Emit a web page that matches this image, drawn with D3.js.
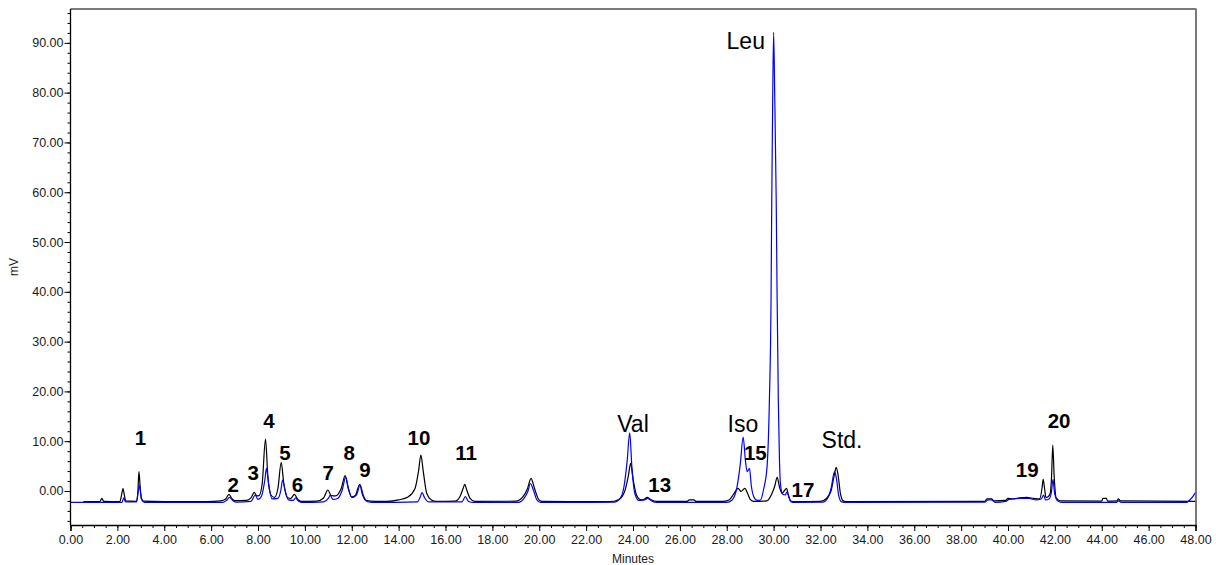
<!DOCTYPE html>
<html>
<head>
<meta charset="utf-8">
<script src="https://cdn.jsdelivr.net/npm/d3@7"></script>
<style>
  html, body { margin: 0; padding: 0; background: #fff; }
  svg { display: block; }
  text { font-family: "Liberation Sans", Arial, sans-serif; }
</style>
</head>
<body>
<svg id="chart" width="1216" height="565"></svg>
<script>
// ---- Data ----
// Black trace: retention time (min), response (mV)
const blackTime = [0.55,1.25,1.34,1.42,2.1,2.18,2.24,2.3,2.36,2.8,2.87,2.92,2.97,3.02,3.12,4.0,5.5,6.1,6.4,6.62,6.76,6.88,7.0,7.5,7.7,7.84,7.95,8.05,8.18,8.32,8.42,8.55,8.7,8.85,8.99,9.1,9.25,9.4,9.55,9.7,9.85,10.5,10.8,10.98,11.12,11.3,11.55,11.72,11.85,12.0,12.15,12.34,12.45,12.6,13.0,13.5,14.0,14.4,14.7,14.85,14.95,15.05,15.2,15.4,15.6,16.4,16.62,16.75,16.82,16.9,17.05,17.25,19.0,19.3,19.5,19.65,19.78,19.95,20.1,23.0,23.4,23.65,23.8,23.9,24.0,24.15,24.35,24.5,24.6,24.75,25.0,26.3,26.4,26.6,26.7,27.8,28.1,28.3,28.48,28.61,28.77,28.9,29.0,29.15,29.7,29.93,30.05,30.15,30.25,30.36,30.45,30.55,30.63,30.72,30.9,32.0,32.25,32.45,32.6,32.67,32.75,32.85,32.95,33.1,39.0,39.1,39.3,39.4,39.9,40.0,40.2,40.5,40.8,41.1,41.35,41.45,41.5,41.56,41.62,41.7,41.8,41.86,41.91,41.97,42.05,42.25,44.0,44.05,44.2,44.25,44.65,44.71,44.8,47.9,48.0];
const blackValue = [-2.15,-2.15,-1.5,-2.1,-2.15,-0.8,0.5,-0.9,-2.0,-2.1,-0.5,3.9,1.0,-1.5,-2.05,-2.15,-2.15,-2.1,-2.0,-1.6,-0.67,-1.5,-1.95,-1.9,-1.4,-0.27,-1.0,-0.9,1.5,10.4,3.0,-0.8,-1.3,0.5,5.75,1.5,-1.3,-1.5,-0.67,-1.7,-2.1,-2.05,-1.4,0.2,-0.9,-1.0,0.5,3.07,0.5,-1.2,-0.9,1.34,-0.6,-1.9,-2.1,-2.1,-1.8,-1.2,0.5,4.0,7.23,4.0,-0.5,-1.8,-2.1,-2.05,-1.1,0.5,1.34,0.3,-1.5,-2.1,-2.05,-1.2,0.5,2.55,0.8,-1.5,-2.1,-2.15,-1.7,0.0,3.0,5.55,2.5,-0.8,-1.8,-1.6,-1.27,-1.7,-2.1,-2.1,-1.8,-1.8,-2.1,-2.1,-1.8,-0.6,0.54,-0.1,0.54,-0.6,-1.7,-2.1,-2.0,-0.5,1.0,2.75,0.8,-0.47,0.0,0.54,-0.8,-2.0,-2.15,-2.1,-1.5,0.0,3.5,4.75,3.2,-0.5,-1.9,-2.15,-2.1,-1.6,-1.6,-2.0,-1.9,-1.5,-1.6,-1.4,-1.3,-1.5,-1.6,0.5,2.35,0.5,-1.3,-1.2,-0.5,3.0,9.24,3.0,-1.3,-2.0,-2.05,-1.5,-1.5,-2.05,-2.0,-1.6,-2.0,-2.1,-2.1];

// Blue trace: retention time (min), response (mV)
const blueTime = [0,2.2,2.27,2.35,2.82,2.88,2.93,2.98,3.05,3.15,6.5,6.65,6.79,6.92,7.1,7.7,7.88,8.0,8.15,8.3,8.36,8.45,8.6,8.85,8.97,9.05,9.15,9.3,9.5,9.6,9.72,9.9,10.8,11.0,11.08,11.2,11.4,11.6,11.74,11.85,12.0,12.2,12.36,12.48,12.65,12.9,14.8,14.92,15.0,15.1,15.3,16.7,16.85,16.98,17.2,19.1,19.35,19.52,19.62,19.75,19.9,20.05,23.2,23.45,23.62,23.75,23.86,23.95,24.08,24.25,24.5,24.62,24.8,25.0,28.0,28.23,28.44,28.58,28.7,28.8,28.87,28.97,29.05,29.15,29.3,29.44,29.58,29.72,29.82,29.89,29.92,29.96,30.0,30.05,30.11,30.15,30.2,30.25,30.29,30.38,30.5,30.56,30.65,30.75,30.9,32.1,32.3,32.45,32.6,32.68,32.78,32.9,33.1,39.0,39.15,39.3,39.45,39.9,40.05,40.5,40.9,41.2,41.42,41.52,41.6,41.75,41.85,41.92,41.98,42.1,42.3,44.6,44.72,44.85,47.6,47.8,48.0];
const blueValue = [-2.3,-2.3,-1.4,-2.2,-2.2,-0.5,1.2,0.0,-1.8,-2.3,-2.3,-1.9,-1.27,-1.9,-2.25,-2.1,-0.8,-1.7,-1.0,2.5,4.55,1.5,-1.6,-1.5,0.0,2.2,0.3,-1.8,-1.9,-1.4,-2.0,-2.3,-2.2,-1.5,-0.9,-1.7,-1.5,0.3,2.8,0.7,-1.3,-0.8,1.2,-0.7,-2.1,-2.3,-2.2,-1.2,-0.33,-1.3,-2.2,-2.2,-1.14,-2.1,-2.3,-2.3,-1.5,0.0,1.5,0.2,-1.8,-2.3,-2.25,-1.5,1.0,6.0,11.7,5.0,-0.5,-1.9,-1.8,-1.5,-2.0,-2.3,-2.3,-1.8,0.87,5.5,10.8,6.0,3.9,4.55,1.0,-1.1,-1.9,-1.8,0.5,4.9,18.3,38.4,58.4,78.5,92.1,78.5,58.4,38.4,18.3,6.0,1.5,-0.6,-0.8,-0.2,-1.2,-2.2,-2.3,-2.25,-1.5,0.5,3.9,2.5,-1.0,-2.2,-2.3,-2.25,-1.8,-1.8,-2.3,-2.1,-1.7,-1.5,-1.5,-1.8,-1.6,-0.8,-1.8,-1.6,-0.3,2.35,-0.2,-1.9,-2.3,-2.3,-2.0,-2.3,-2.3,-1.6,-0.33];

// Peak labels: text, anchor time (min), anchor response (mV), bold flag
const peakLabels = ["1","2","3","4","5","6","7","8","9","10","11","Val","13","Iso","15","Leu","17","Std.","19","20"];
const peakLabelTime = [2.98,6.94,7.79,8.47,9.15,9.68,11.0,11.89,12.56,14.87,16.88,24.0,25.14,28.69,29.22,28.81,31.25,32.92,40.82,42.18];
const peakLabelValue = [9.24,-0.13,2.2,12.6,6.22,-0.13,2.2,6.22,2.87,9.24,6.22,11.8,-0.13,11.8,6.22,88.7,-1.14,8.57,2.87,12.6];
const peakLabelBold = [1,1,1,1,1,1,1,1,1,1,1,0,1,0,1,0,1,0,1,1];

// Axis ticks
const xTickValues = [0,2,4,6,8,10,12,14,16,18,20,22,24,26,28,30,32,34,36,38,40,42,44,46,48];
const yTickValues = [0,10,20,30,40,50,60,70,80,90];
const xAxisTitle = "Minutes";
const yAxisTitle = "mV";

// ---- Layout ----
const svg = d3.select("#chart");
const padL = 70.5, padR = 1195.5, padT = 9, padB = 525;

const x = d3.scaleLinear().domain([0, 48]).range([padL, padR]);
const y = d3.scaleLinear().domain([-6.83, 96.8]).range([padB, padT]);

// frame (top & right, grey)
svg.append("line").attr("x1", padL).attr("x2", padR + 1).attr("y1", padT).attr("y2", padT)
  .attr("stroke", "#7a7a7a").attr("stroke-width", 2);
svg.append("line").attr("x1", padR + 0.5).attr("x2", padR + 0.5).attr("y1", padT).attr("y2", padB)
  .attr("stroke", "#7a7a7a").attr("stroke-width", 2);

// clip
svg.append("clipPath").attr("id", "plotclip").append("rect")
  .attr("x", padL).attr("y", padT).attr("width", padR - padL).attr("height", padB - padT);

const line = d3.line().x(d => x(d[0])).y(d => y(d[1])).curve(d3.curveMonotoneX);

const blackData = blackTime.map((t, i) => [t, blackValue[i]]);
const blueData = blueTime.map((t, i) => [t, blueValue[i]]);

const g = svg.append("g").attr("clip-path", "url(#plotclip)");
g.append("path").datum(blackData).attr("d", line)
  .attr("fill", "none").attr("stroke", "#000").attr("stroke-width", 1.2).attr("stroke-linejoin", "round");
g.append("path").datum(blueData).attr("d", line)
  .attr("fill", "none").attr("stroke", "#0000ff").attr("stroke-width", 1.2).attr("stroke-linejoin", "round");

// x axis
const xAxisMinor = d3.axisBottom(x).tickValues(d3.range(0, 48.01, 0.5)).tickSize(3).tickFormat("");
svg.append("g").attr("transform", `translate(0,${padB})`).call(xAxisMinor)
  .call(s => s.select(".domain").remove())
  .selectAll("line").attr("stroke", "#000");
const xAxis = d3.axisBottom(x).tickValues(xTickValues).tickSize(6).tickPadding(4)
  .tickFormat(d3.format(".2f"));
const xg = svg.append("g").attr("transform", `translate(0,${padB})`).call(xAxis);
xg.select(".domain").attr("stroke", "#000").attr("stroke-width", 1.3);
xg.selectAll("text").attr("font-size", 12.5).attr("fill", "#1a1a1a")
  .attr("font-family", "Liberation Sans, Arial, sans-serif");

// y axis
const yAxisMinor = d3.axisLeft(y).tickValues(d3.range(-6, 96.01, 2)).tickSize(3).tickFormat("");
svg.append("g").attr("transform", `translate(${padL},0)`).call(yAxisMinor)
  .call(s => s.select(".domain").remove())
  .selectAll("line").attr("stroke", "#000");
const yAxis = d3.axisLeft(y).tickValues(yTickValues).tickSize(6).tickPadding(1)
  .tickFormat(d3.format(".2f"));
const yg = svg.append("g").attr("transform", `translate(${padL},0)`).call(yAxis);
yg.select(".domain").attr("d", `M0,${padT}V${padB}`).attr("stroke", "#000").attr("stroke-width", 1.3);
yg.selectAll("text").attr("font-size", 12.5).attr("fill", "#1a1a1a")
  .attr("font-family", "Liberation Sans, Arial, sans-serif");

// axis titles
svg.append("text").attr("x", (padL + padR) / 2).attr("y", 563).attr("text-anchor", "middle")
  .attr("font-size", 12).attr("fill", "#1a1a1a").text(xAxisTitle);
svg.append("text").attr("transform", `translate(18,${(padT + padB) / 2}) rotate(-90)`)
  .attr("text-anchor", "middle").attr("font-size", 12).attr("fill", "#1a1a1a").text(yAxisTitle);

// peak labels
peakLabels.forEach((txt, i) => {
  const bold = peakLabelBold[i] === 1;
  svg.append("text")
    .attr("x", x(peakLabelTime[i]))
    .attr("y", y(peakLabelValue[i]))
    .attr("text-anchor", "middle")
    .attr("font-size", bold ? 20.5 : 23)
    .attr("font-weight", bold ? "bold" : "normal")
    .attr("fill", "#000")
    .text(txt);
});
</script>
</body>
</html>
